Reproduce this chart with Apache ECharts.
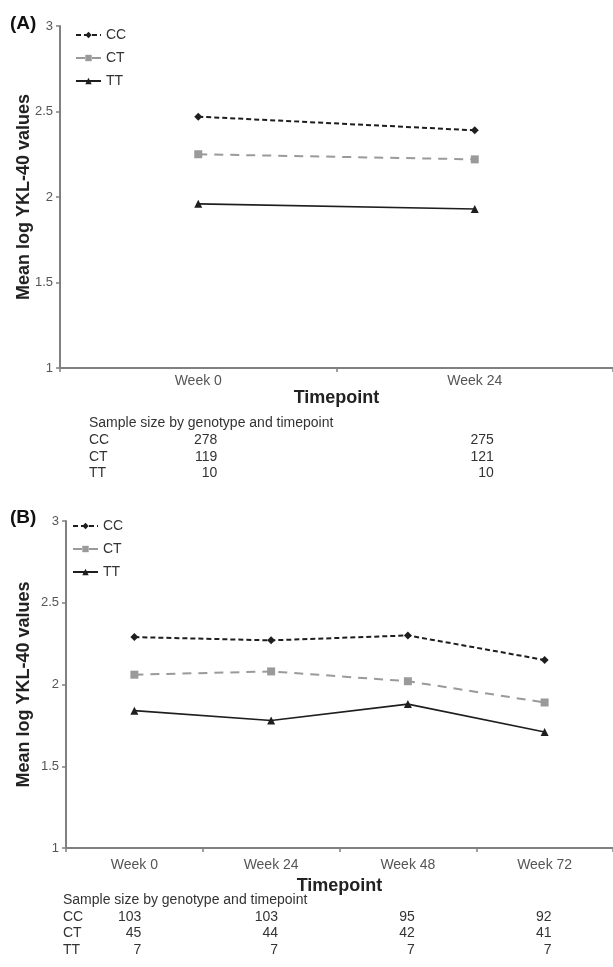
<!DOCTYPE html>
<html>
<head>
<meta charset="utf-8">
<script src="https://cdn.jsdelivr.net/npm/echarts@6/dist/echarts.min.js"></script>
<style>
html,body{margin:0;padding:0;background:#fff;}
#chart{width:613px;height:967px;}
</style>
</head>
<body>
<div id="chart"></div>
<script>
// ---- data ----
const categoriesA = ['Week 0', 'Week 24'];
const ccA = [2.47, 2.39];
const ctA = [2.25, 2.22];
const ttA = [1.96, 1.93];
const sampleCCA = [278, 275];
const sampleCTA = [119, 121];
const sampleTTA = [10, 10];

const categoriesB = ['Week 0', 'Week 24', 'Week 48', 'Week 72'];
const ccB = [2.29, 2.27, 2.30, 2.15];
const ctB = [2.06, 2.08, 2.02, 1.89];
const ttB = [1.84, 1.78, 1.88, 1.71];
const sampleCCB = [103, 103, 95, 92];
const sampleCTB = [45, 44, 42, 41];
const sampleTTB = [7, 7, 7, 7];

const genotypes = ['CC', 'CT', 'TT'];
const yMin = 1, yMax = 3, yStep = 0.5;
const yName = 'Mean log YKL-40 values';
const xName = 'Timepoint';
const tableTitle = 'Sample size by genotype and timepoint';

// ---- styles ----
const FONT = '"Liberation Sans", Arial, Helvetica, sans-serif';
const AXIS = '#808080';
const DARK = '#1e1e1e';
const GRAYL = '#9a9a9a';

function seriesFor(idx, cc, ct, tt) {
  return [
    {name:'CC', type:'line', xAxisIndex:idx, yAxisIndex:idx, data:cc,
     symbol:'diamond', symbolSize:8, itemStyle:{color:DARK},
     lineStyle:{color:DARK, width:2, type:[5,3]}, animation:false},
    {name:'CT', type:'line', xAxisIndex:idx, yAxisIndex:idx, data:ct,
     symbol:'rect', symbolSize:8, itemStyle:{color:GRAYL},
     lineStyle:{color:GRAYL, width:2, type:[9,7]}, animation:false},
    {name:'TT', type:'line', xAxisIndex:idx, yAxisIndex:idx, data:tt,
     symbol:'triangle', symbolSize:8, itemStyle:{color:DARK},
     lineStyle:{color:DARK, width:1.6, type:'solid'}, animation:false}
  ];
}

function xAxisFor(idx, cats, margin, nameGap) {
  return {
    gridIndex: idx, type:'category', data:cats, boundaryGap:true,
    axisLine:{lineStyle:{color:AXIS, width:2}},
    axisTick:{show:true, length:4, lineStyle:{color:AXIS, width:1.5}},
    axisLabel:{color:'#555', fontSize:14, fontFamily:FONT, margin:margin},
    name:xName, nameLocation:'middle', nameGap:nameGap, nameMoveOverlap:false,
    nameTextStyle:{fontWeight:'bold', fontSize:18, color:'#222', fontFamily:FONT}
  };
}
function yAxisFor(idx, nameGap) {
  return {
    gridIndex: idx, type:'value', min:yMin, max:yMax, interval:yStep,
    axisLine:{show:true, lineStyle:{color:AXIS, width:2}},
    axisTick:{show:true, length:4, lineStyle:{color:AXIS, width:1.5}},
    splitLine:{show:false},
    axisLabel:{color:'#555', fontSize:13, fontFamily:FONT, margin:7},
    name:yName, nameLocation:'middle', nameGap:nameGap, nameMoveOverlap:false,
    nameTextStyle:{fontWeight:'bold', fontSize:18, color:'#222', fontFamily:FONT}
  };
}
function legendFor(left, top) {
  return {
    data: genotypes, orient:'vertical', left:left, top:top, padding:0,
    itemWidth:25, itemHeight:8, itemGap:9,
    textStyle:{fontSize:14, color:'#333', fontFamily:FONT},
    selectedMode:false
  };
}

const chart = echarts.init(document.getElementById('chart'), null, {renderer:'canvas'});
chart.setOption({
  animation:false,
  backgroundColor:'#fff',
  textStyle:{fontFamily:FONT},
  grid:[
    {left:60, top:26, width:554, height:342},
    {left:66, top:521, width:548, height:327}
  ],
  xAxis:[xAxisFor(0, categoriesA, 6, 21), xAxisFor(1, categoriesB, 10, 29)],
  yAxis:[yAxisFor(0, 27), yAxisFor(1, 33)],
  legend:[legendFor(75, 28), legendFor(72, 519)],
  series:[].concat(seriesFor(0, ccA, ctA, ttA), seriesFor(1, ccB, ctB, ttB))
});

// ---- sample size tables and panel labels (positions from the axes) ----
function tableGraphics(idx, cats, rows, labelX, headerY, rowYs, numOffset) {
  const els = [];
  const txt = (x, y, s, align) => ({
    type:'text', x:x, y:y, silent:true,
    style:{text:String(s), fill:'#333', font:'14px ' + FONT, textAlign:align||'left', textVerticalAlign:'middle'}
  });
  els.push(txt(labelX, headerY, tableTitle));
  rows.forEach((vals, r) => {
    els.push(txt(labelX, rowYs[r], genotypes[r]));
    vals.forEach((v, c) => {
      const px = chart.convertToPixel({xAxisIndex: idx}, cats[c]);
      els.push(txt(px + numOffset, rowYs[r], v, 'right'));
    });
  });
  return els;
}
const graphics = [].concat(
  tableGraphics(0, categoriesA, [sampleCCA, sampleCTA, sampleTTA], 89, 423, [440, 457, 473], 19),
  tableGraphics(1, categoriesB, [sampleCCB, sampleCTB, sampleTTB], 63, 900, [917, 933, 950], 7),
  [
    {type:'text', x:10, y:24, silent:true, style:{text:'(A)', fill:'#111', font:'bold 19px ' + FONT, textVerticalAlign:'middle'}},
    {type:'text', x:10, y:518, silent:true, style:{text:'(B)', fill:'#111', font:'bold 19px ' + FONT, textVerticalAlign:'middle'}}
  ]
);
chart.setOption({graphic: graphics});
</script>
</body>
</html>
